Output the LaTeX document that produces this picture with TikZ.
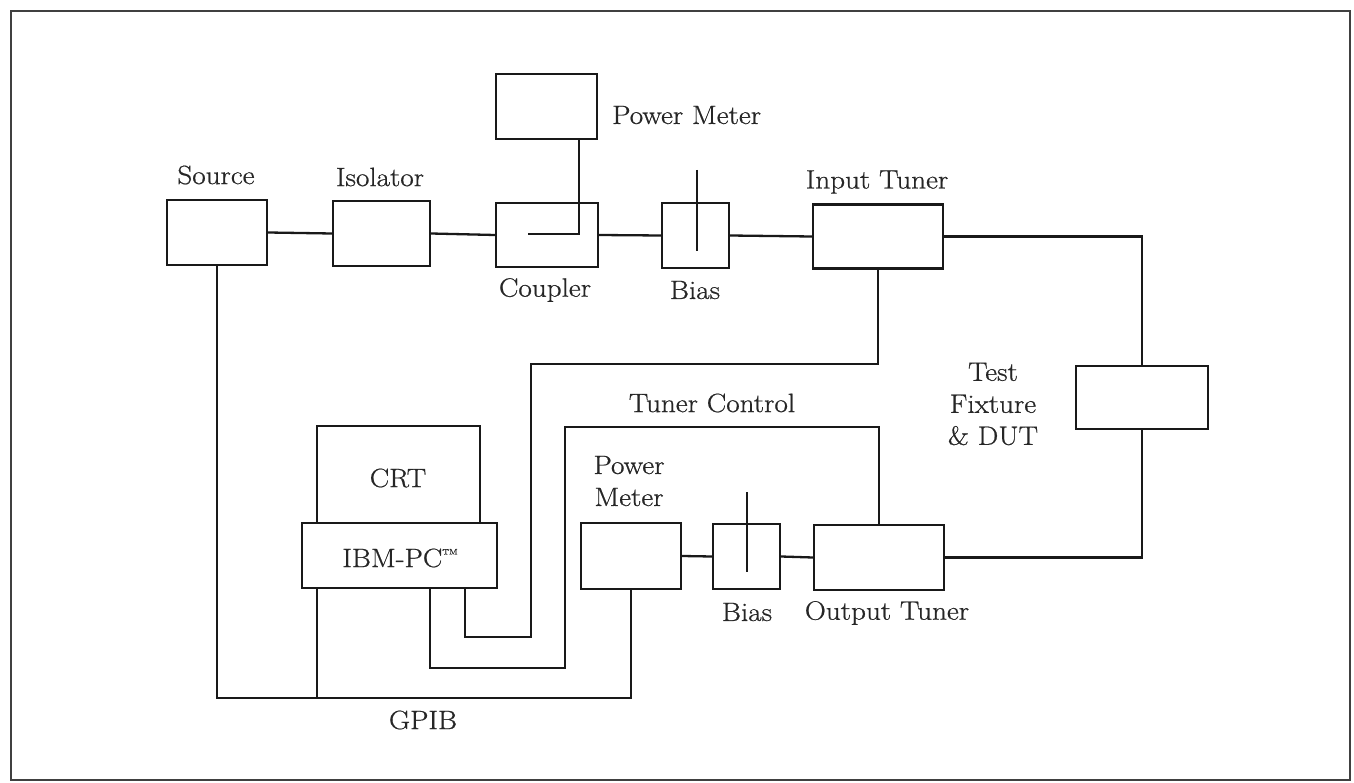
\documentclass[tikz,border=0pt]{standalone}
\usepackage{fontspec}
\setmainfont{Latin Modern Roman}[FakeStretch=1.1,FakeBold=0.7]
\usepackage{tikz}
\begin{document}
\begin{tikzpicture}[x=1pt,y=-1pt,
  blk/.style={draw=black!90,line width=2.3pt,inner sep=0pt,minimum width=#1},
  blk/.default=100pt,
  wire/.style={draw=black!90,line width=2.3pt},
  lbl/.style={inner sep=0pt,font=\fontsize{26.5}{32}\selectfont,text=black!85,align=center}]
\useasboundingbox (0,0) rectangle (1354,783);
\draw[line width=2.8pt,black!75] (11,11) rectangle (1350,780);
% top row
\node[blk=100pt,minimum height=65pt] (src) at (217,232.5) {};
\node[blk=97pt,minimum height=65pt] (iso) at (381.5,233.5) {};
\node[blk=102pt,minimum height=64pt] (cpl) at (547,235) {};
\node[blk=101pt,minimum height=65pt] (pm1) at (546.5,106.5) {};
\node[blk=67pt,minimum height=65pt] (bias1) at (695.5,235.5) {};
\node[blk=130pt,minimum height=64pt] (itun) at (878,236.5) {};
\node[blk=132pt,minimum height=63pt] (tf) at (1142,397.5) {};
% bottom row
\node[blk=130pt,minimum height=65pt] (otun) at (879,557.5) {};
\node[blk=67pt,minimum height=65pt] (bias2) at (746.5,556.5) {};
\node[blk=100pt,minimum height=66pt] (pm2) at (631,556) {};
\node[blk=163pt,minimum height=97pt] (crt) at (398.5,474.5) {};
\node[blk=195pt,minimum height=65pt] (ibm) at (399.5,555.5) {};
% labels
\node[lbl] (lsrc) at (216,175) {Source};
\node[lbl] (liso) at (380,177) {Isolator};
\node[lbl] (lcpl) at (545,290) {Coupler};
\node[lbl] (lb1) at (695,290) {Bias};
\node[lbl,anchor=west] (lpm1) at (612,115) {Power Meter};
\node[lbl] (litun) at (877,182) {Input Tuner};
\node[lbl] (ltc) at (712,403) {Tuner Control};
\node[lbl] (ltf) at (993,404) {Test\\Fixture\\\& DUT};
\node[lbl] (lcrt) at (398,478) {CRT};
\node[lbl] (libm) at (400,558) {IBM-PC\raisebox{1.1ex}{\fontsize{8}{8}\selectfont TM}};
\node[lbl] (lpm2) at (629,481) {Power\\Meter};
\node[lbl] (lb2) at (747,612) {Bias};
\node[lbl] (lotun) at (887,613) {Output Tuner};
\node[lbl] (lgpib) at (423,720) {GPIB};
% top chain
\draw[wire] (src.east) -- (iso.west);
\draw[wire] (iso.east) -- (cpl.west);
\draw[wire] (cpl.east) -- (bias1.west);
\draw[wire] (bias1.east) -- (itun.west);
% coupler inner line to power meter
\coordinate (cin) at (528,234);
\coordinate (cturn) at (579,234);
\draw[wire] (cin) -- (cturn) -- (cturn |- pm1.south);
% bias ticks
\coordinate (b1t) at (697,170);
\coordinate (b1b) at (697,251);
\draw[wire] (b1t) -- (b1b);
\coordinate (b2t) at (747,492);
\coordinate (b2b) at (747,572);
\draw[wire] (b2t) -- (b2b);
% test fixture
\draw[wire] (itun.east) -| (tf.north);
\draw[wire] (tf.south) |- (otun.east);
% bottom chain
\draw[wire] (pm2.east) -- (bias2.west);
\draw[wire] (bias2.east) -- (otun.west);
% tuner control lines
\coordinate (i1) at (531,364);
\coordinate (i2) at (465,637);
\draw[wire] (itun.south) |- (i1) |- (i2) -- (i2 |- ibm.south);
\coordinate (o1) at (565,427);
\coordinate (o2) at (430,668);
\draw[wire] (otun.north) |- (o1) |- (o2) -- (o2 |- ibm.south);
% GPIB
\coordinate (g1) at (631,698);
\coordinate (g2) at (317,698);
\draw[wire] (src.south) |- (g1) -- (pm2.south);
\draw[wire] (g2 |- ibm.south) -- (g2);
\end{tikzpicture}
\end{document}
